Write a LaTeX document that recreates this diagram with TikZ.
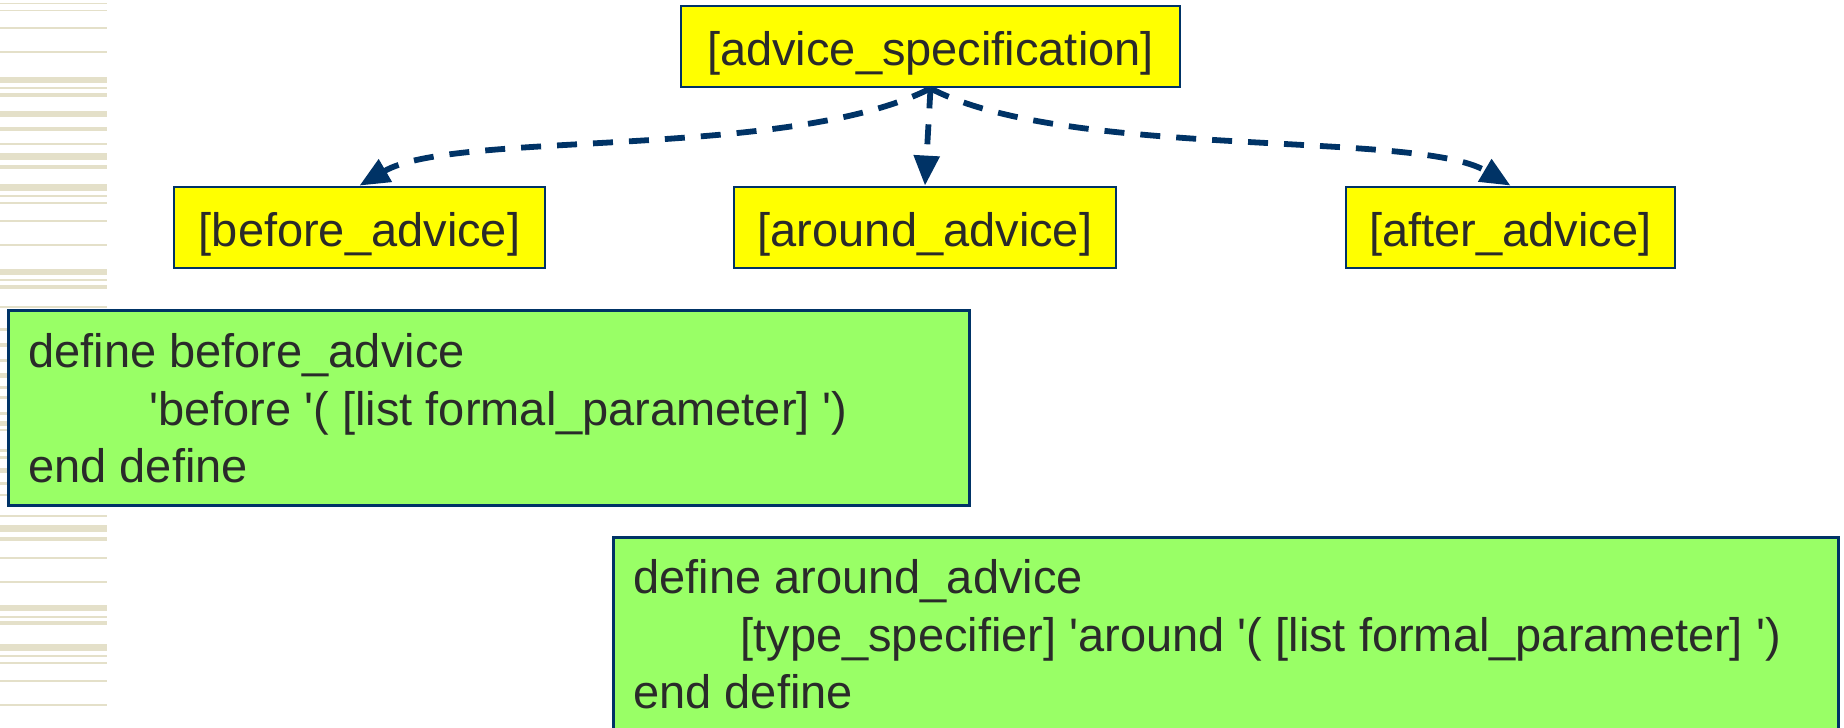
\documentclass[tikz,border=0pt]{standalone}
\usepackage{fontspec}
\newfontfamily\arialfont{Liberation Sans}
\usetikzlibrary{arrows.meta}
\definecolor{navy}{HTML}{003366}
\definecolor{boxyellow}{HTML}{FFFF00}
\definecolor{codegreen}{HTML}{99FF66}
\definecolor{ink}{HTML}{2A2A2A}
\definecolor{stripe}{HTML}{E4E0C9}
\begin{document}
\begin{tikzpicture}[x=0.5pt,y=-0.5pt,
  txt/.style={text=ink, font=\arialfont\fontsize{23.5}{28.75}\selectfont},
  rule/.style={txt, draw=navy, line width=1.4pt, fill=boxyellow, inner sep=0pt,
    text height=23.5pt, text depth=5pt, minimum height=40.5pt},
  codebox/.style={draw=navy, line width=1.5pt, fill=codegreen, inner sep=0pt, anchor=north west},
  codetext/.style={txt, anchor=north west, inner sep=0pt, align=left},
  link/.style={draw=navy, line width=2.9pt, dash pattern=on 10pt off 8pt,
    -{Triangle[length=15pt,width=12.5pt]}}
]
\useasboundingbox (0,0) rectangle (1844,728);
\clip (0,0) rectangle (1844,728);
\fill[white] (0,0) rectangle (1844,728);

% decorative stripes down the left margin (centre / thickness)
\foreach \y/\t in {3.3/1.5, 10.7/1.5, 28/1.5, 52/1.5, 80/6, 88/1.5, 95/4, 114/6,
  129/4, 144/1.5, 156/7, 167/4, 187/7, 196/1.5, 203/1.5, 221/1.5, 245/1.5,
  272/6, 280/1.5, 287/4, 307/1.5, 329/3, 345/4, 360/3, 375/5, 387/3, 397/3,
  413/3, 423/5, 430/2, 450/3, 457/3, 470/5, 483/3, 495/2,
  516/1.5, 528/7, 539/4, 558/1.5, 582/1.5, 608/6, 617/1.5, 623/4, 647/7,
  656/1.5, 663/2.5, 681/1.5, 705/1.5}
  \fill[stripe] (0,{\y-\t/2}) rectangle (107,{\y+\t/2});

% grammar rule boxes
\node[rule, minimum width=249.5pt] (spec)   at (930.5,46.5)  {[advice\_specification]};
\node[rule, minimum width=185.5pt] (before) at (359.5,227.5) {[before\_advice]};
\node[rule, minimum width=191pt]   (around) at (925,227.5)   {[around\_advice]};
\node[rule, minimum width=164.5pt] (after)  at (1510.5,227.5){[after\_advice]};

% dashed links from the alternative to its choices
\draw[link] (spec.south) .. controls (790,160) and (455,130) .. (before.north);
\draw[link] (spec.south) -- (around.north);
\draw[link] (spec.south) .. controls (1068,160) and (1417,130) .. (after.north);

% definitions
\node[codebox, minimum width=480.5pt, minimum height=97.5pt] (beforebox) at (7,309) {};
\node[codetext] (beforetext) at (28,327) {\strut define before\_advice\\
  \hspace*{60.5pt}'before '( [list formal\_parameter] ')\\
  end define};

\node[codebox, minimum width=612.5pt, minimum height=112pt] (aroundbox) at (612,536) {};
\node[codetext] (aroundtext) at (633,553) {\strut define around\_advice\\
  \hspace*{53.5pt}[type\_specifier] 'around '( [list formal\_parameter] ')\\
  end define};
\end{tikzpicture}
\end{document}
